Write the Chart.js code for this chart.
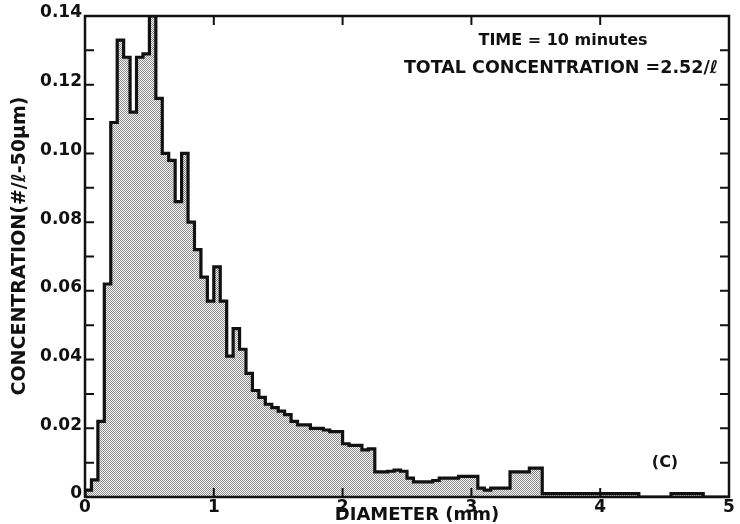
<!DOCTYPE html>
<html>
<head>
<meta charset="utf-8">
<script src="https://cdn.jsdelivr.net/npm/chart.js@4"></script>
<style>
  html, body { margin: 0; padding: 0; background: #fff; }
</style>
</head>
<body>
<canvas id="chart" width="740" height="524"></canvas>
<script>
// 50 um diameter classes, concentration in #/l per class
const binWidth = 0.05
const concentration = [
  0.002, 0.005, 0.022, 0.062, 0.109, 0.133, 0.128, 0.112, 0.128, 0.129,
  0.140, 0.116, 0.100, 0.098, 0.086, 0.100, 0.080, 0.072, 0.064, 0.057,
  0.067, 0.057, 0.041, 0.049, 0.043, 0.036, 0.031, 0.029, 0.027, 0.026,
  0.025, 0.024, 0.022, 0.021, 0.021, 0.020, 0.020, 0.0195, 0.019, 0.019,
  0.0155, 0.015, 0.015, 0.0137, 0.014, 0.0073, 0.0073, 0.0075, 0.0078, 0.0075,
  0.0055, 0.0044, 0.0044, 0.0044, 0.0048, 0.0055, 0.0055, 0.0055, 0.006, 0.006,
  0.006, 0.0026, 0.002, 0.0026, 0.0026, 0.0026, 0.0073, 0.0073, 0.0073, 0.0084,
  0.0084, 0.001, 0.001, 0.001, 0.001, 0.001, 0.001, 0.001, 0.001, 0.001,
  0.001, 0.001, 0.001, 0.001, 0.001, 0.001, 0, 0, 0, 0,
  0, 0.001, 0.001, 0.001, 0.001, 0.001, 0, 0, 0, 0
]

const xTicks = [0, 1, 2, 3, 4, 5]
const yTicks = [0, 0.02, 0.04, 0.06, 0.08, 0.10, 0.12, 0.14]
const yMinorTicks = [0.01, 0.03, 0.05, 0.07, 0.09, 0.11, 0.13]
const xTitle = 'DIAMETER (mm)'
const yTitle = 'CONCENTRATION(#/ℓ-50μm)'
const notes = ['TIME = 10 minutes', 'TOTAL CONCENTRATION =2.52/ℓ']
const panelLabel = '(C)'

const FONT = '"DejaVu Sans", sans-serif'

// stippled fill like the printed halftone
const tile = document.createElement('canvas')
tile.width = 2; tile.height = 2
const tctx = tile.getContext('2d')
tctx.fillStyle = '#f6f6f6'; tctx.fillRect(0, 0, 2, 2)
tctx.fillStyle = '#8e8e8e'; tctx.fillRect(0, 0, 1, 1); tctx.fillRect(1, 1, 1, 1)
const stipple = tctx.createPattern(tile, 'repeat')

const points = [{ x: 0, y: 0 }]
concentration.forEach((c, i) => points.push({ x: i * binWidth, y: c }))
points.push({ x: concentration.length * binWidth, y: 0 })

const frame = {
  id: 'frame',
  afterDraw(chart) {
    const { ctx, chartArea: a, scales: { x, y } } = chart
    ctx.save()
    ctx.strokeStyle = '#111'
    ctx.lineWidth = 2.5
    ctx.strokeRect(a.left, a.top, a.right - a.left, a.bottom - a.top)

    ctx.lineWidth = 2
    ctx.beginPath()
    xTicks.slice(1, -1).forEach(v => {
      const px = x.getPixelForValue(v)
      ctx.moveTo(px, a.bottom); ctx.lineTo(px, a.bottom - 9)
      ctx.moveTo(px, a.top); ctx.lineTo(px, a.top + 9)
    })
    yTicks.slice(1, -1).concat(yMinorTicks).forEach(v => {
      const py = y.getPixelForValue(v)
      ctx.moveTo(a.left, py); ctx.lineTo(a.left + 9, py)
      ctx.moveTo(a.right, py); ctx.lineTo(a.right - 9, py)
    })
    ctx.stroke()

    ctx.fillStyle = '#111'
    ctx.textAlign = 'center'
    ctx.textBaseline = 'middle'
    ctx.font = 'bold 16px ' + FONT
    ctx.fillText(notes[0], 563, 41)
    ctx.fillText(panelLabel, 665, 463)
    ctx.font = 'bold 17.5px ' + FONT
    ctx.fillText(notes[1], 561, 68)

    ctx.font = 'bold 18px ' + FONT
    ctx.fillText(xTitle, 417, 515)
    ctx.save()
    ctx.font = 'bold 19px ' + FONT
    ctx.translate(20, 246)
    ctx.rotate(-Math.PI / 2)
    ctx.fillText(yTitle, 0, 0)
    ctx.restore()
    ctx.restore()
  }
}

new Chart(document.getElementById('chart'), {
  type: 'line',
  data: {
    datasets: [{
      data: points,
      stepped: 'before',
      borderColor: '#111',
      borderWidth: 3.2,
      borderJoinStyle: 'miter',
      backgroundColor: stipple,
      fill: 'origin',
      pointRadius: 0
    }]
  },
  options: {
    responsive: false,
    animation: false,
    layout: { padding: { top: 16, right: 11, left: 0, bottom: 0 } },
    plugins: { legend: { display: false }, tooltip: { enabled: false } },
    scales: {
      x: {
        type: 'linear',
        min: 0,
        max: 5,
        afterFit: s => { s.height = 27 },
        afterBuildTicks: s => { s.ticks = xTicks.map(v => ({ value: v })) },
        grid: { display: false, drawTicks: false, tickLength: 0 },
        border: { display: false },
        ticks: {
          padding: 0,
          color: '#111',
          font: { family: FONT, size: 17, weight: 'bold' },
          callback: v => String(v)
        }
      },
      y: {
        min: 0,
        max: 0.14,
        afterFit: s => { s.width = 85 },
        afterBuildTicks: s => { s.ticks = yTicks.map(v => ({ value: v })) },
        grid: { display: false, drawTicks: false, tickLength: 0 },
        border: { display: false },
        ticks: {
          padding: 3,
          labelOffset: -3,
          color: '#111',
          font: { family: FONT, size: 17, weight: 'bold' },
          callback: v => v === 0 ? '0' : v.toFixed(2)
        }
      }
    }
  },
  plugins: [frame]
})
</script>
</body>
</html>
